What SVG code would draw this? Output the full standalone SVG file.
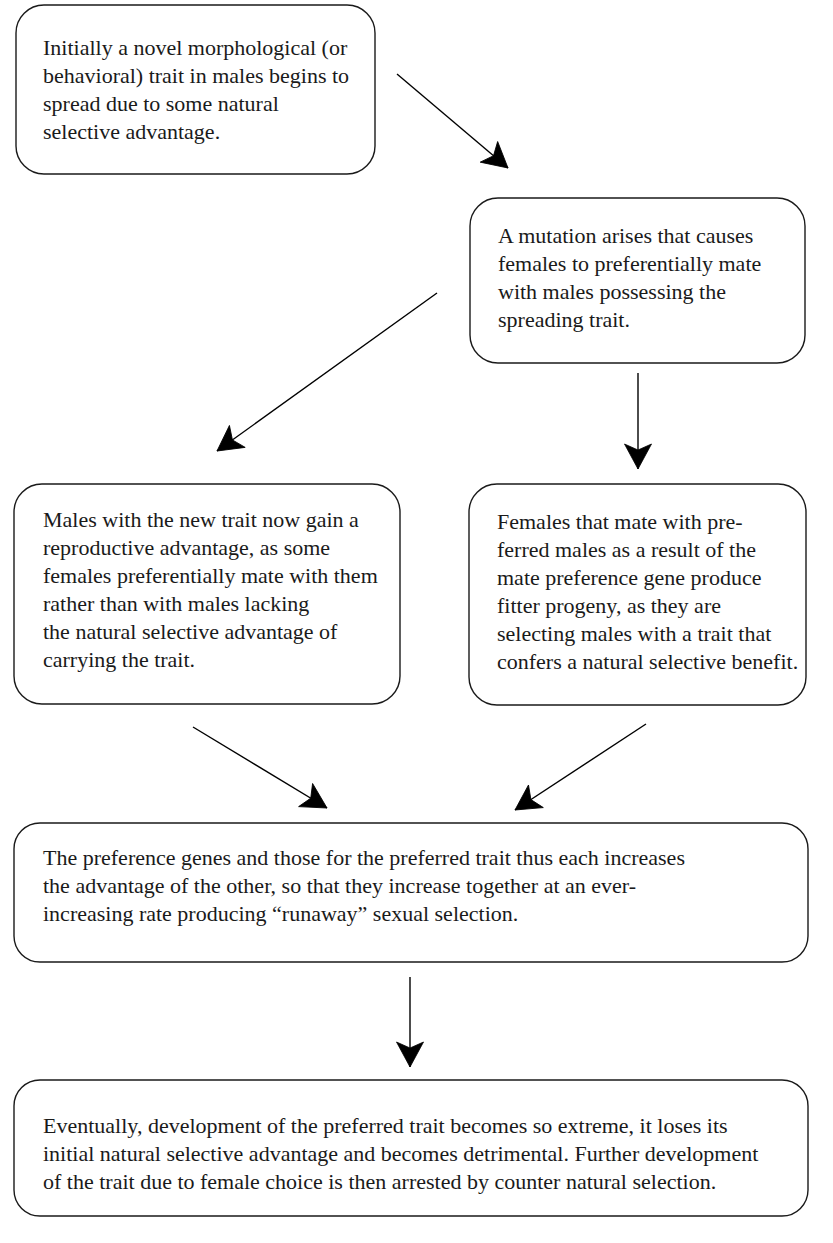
<svg xmlns="http://www.w3.org/2000/svg" width="833" height="1243" viewBox="0 0 833 1243">
<style>
.box{fill:#fff;stroke:#1a1a1a;stroke-width:1.4}
.t{font-family:"Liberation Serif","Times New Roman",serif;font-size:22px;fill:#1a1a1a}
.c{stroke:#000;stroke-width:1.4;fill:none;marker-end:url(#ah)}
</style>
<defs>
<marker id="ah" markerUnits="userSpaceOnUse" markerWidth="40" markerHeight="40" viewBox="-30 -20 40 40" refX="0" refY="0" orient="auto">
<path d="M0,0 L-25,-13.5 L-19,0 L-25,13.5 Z" fill="#000" stroke="#000" stroke-width="0.8" stroke-linejoin="miter"/>
</marker>
</defs>
<rect width="833" height="1243" fill="#fff"/>
<g id="n1">
<rect class="box" x="16" y="5" width="359" height="169" rx="28"/>
<text class="t"><tspan x="43" y="55">Initially a novel morphological (or</tspan><tspan x="43" y="83">behavioral) trait in males begins to</tspan><tspan x="43" y="111">spread due to some natural</tspan><tspan x="43" y="139">selective advantage.</tspan></text>
</g>
<g id="n2">
<rect class="box" x="470" y="198" width="335" height="165" rx="28"/>
<text class="t"><tspan x="498" y="243">A mutation arises that causes</tspan><tspan x="498" y="271">females to preferentially mate</tspan><tspan x="498" y="299">with males possessing the</tspan><tspan x="498" y="327">spreading trait.</tspan></text>
</g>
<g id="n3">
<rect class="box" x="14" y="484" width="386" height="220" rx="28"/>
<text class="t"><tspan x="43" y="527">Males with the new trait now gain a</tspan><tspan x="43" y="555">reproductive advantage, as some</tspan><tspan x="43" y="583">females preferentially mate with them</tspan><tspan x="43" y="611">rather than with males lacking</tspan><tspan x="43" y="639">the natural selective advantage of</tspan><tspan x="43" y="667">carrying the trait.</tspan></text>
</g>
<g id="n4">
<rect class="box" x="469" y="484" width="337" height="221" rx="28"/>
<text class="t"><tspan x="497" y="529">Females that mate with pre-</tspan><tspan x="497" y="557">ferred males as a result of the</tspan><tspan x="497" y="585">mate preference gene produce</tspan><tspan x="497" y="613">fitter progeny, as they are</tspan><tspan x="497" y="641">selecting males with a trait that</tspan><tspan x="497" y="669">confers a natural selective benefit.</tspan></text>
</g>
<g id="n5">
<rect class="box" x="14" y="823" width="794" height="139" rx="26"/>
<text class="t"><tspan x="43" y="865">The preference genes and those for the preferred trait thus each increases</tspan><tspan x="43" y="893">the advantage of the other, so that they increase together at an ever-</tspan><tspan x="43" y="921">increasing rate producing “runaway” sexual selection.</tspan></text>
</g>
<g id="n6">
<rect class="box" x="14" y="1080" width="794" height="136" rx="26"/>
<text class="t"><tspan x="43" y="1133">Eventually, development of the preferred trait becomes so extreme, it loses its</tspan><tspan x="43" y="1161">initial natural selective advantage and becomes detrimental. Further development</tspan><tspan x="43" y="1189">of the trait due to female choice is then arrested by counter natural selection.</tspan></text>
</g>
<g id="connectors">
<line class="c" x1="397" y1="74" x2="508" y2="168"/>
<line class="c" x1="437" y1="293" x2="217" y2="451"/>
<line class="c" x1="638" y1="373" x2="638" y2="469"/>
<line class="c" x1="193" y1="727" x2="327" y2="808"/>
<line class="c" x1="646" y1="724" x2="515" y2="810"/>
<line class="c" x1="410" y1="977" x2="410" y2="1067"/>
</g>
</svg>
